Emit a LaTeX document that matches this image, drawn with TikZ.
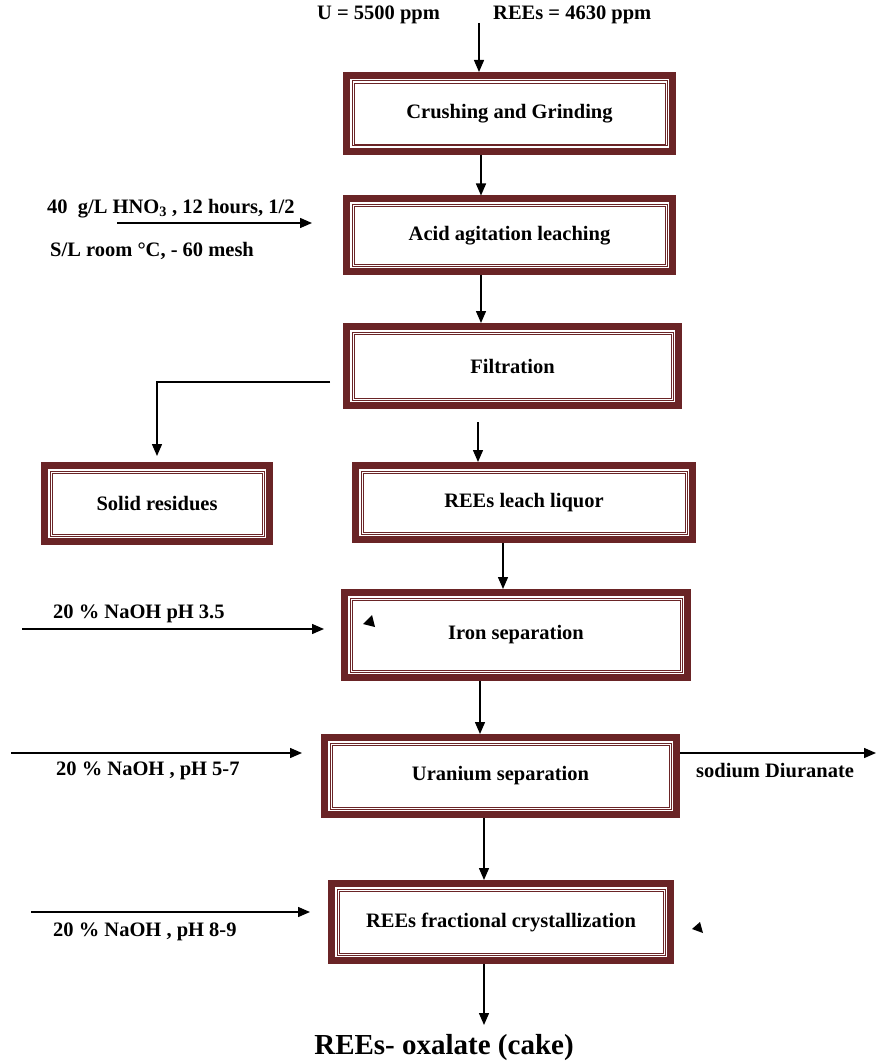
\documentclass[tikz,border=0pt]{standalone}
\usepackage{fontspec}
\setmainfont{Liberation Serif}
\usetikzlibrary{positioning, arrows.meta}
\definecolor{boxred}{RGB}{106,36,38}
\tikzset{
  procbox/.style={draw=boxred, line width=7pt, fill=white,
    font=\bfseries\fontsize{20.5}{23}\selectfont,
    path picture={
      \draw[boxred, line width=1pt]
        ([shift={(5.5pt,-5.5pt)}]path picture bounding box.north west) rectangle
        ([shift={(-5.5pt,5.5pt)}]path picture bounding box.south east);
      \draw[boxred, line width=0.8pt]
        ([shift={(7.5pt,-7.5pt)}]path picture bounding box.north west) rectangle
        ([shift={(-7.5pt,7.5pt)}]path picture bounding box.south east);
    }},
  lbl/.style={font=\bfseries\fontsize{20.5}{22}\selectfont, inner sep=0pt},
  flow/.style={line width=1.4pt, -{Triangle[length=12pt,width=10pt]}}
}
\begin{document}
\begin{tikzpicture}[x=1pt, y=-1pt]
    \useasboundingbox (0,0) rectangle (877,1064);

    % process boxes
    \node[procbox, minimum width=326pt, minimum height=76pt] (crush) at (509.5,113.5) {Crushing and Grinding};
    \node[procbox, minimum width=326pt, minimum height=73pt, below of=crush, node distance=122pt] (acid) {Acid agitation leaching};
    \node[procbox, minimum width=332pt, minimum height=79pt, below of=acid, node distance=130.5pt, xshift=3pt] (filt) {Filtration};
    \node[procbox, minimum width=337pt, minimum height=74pt, below of=filt, node distance=136.5pt, xshift=11.5pt] (leach) {REEs leach liquor};
    \node[procbox, minimum width=225pt, minimum height=76pt] (solid) at (157,503.5) {Solid residues};
    \node[procbox, minimum width=343pt, minimum height=85pt, below of=leach, node distance=132.5pt, xshift=-8pt] (iron) {Iron separation};
    \node[procbox, minimum width=352pt, minimum height=77pt, below of=iron, node distance=141pt, xshift=-15.5pt] (uran) {Uranium separation};
    \node[procbox, minimum width=339pt, minimum height=77pt, below of=uran, node distance=146pt, xshift=0.5pt] (frac) {REEs fractional crystallization};

    % feed and conditions
    \node[lbl, anchor=west] (ulbl) at (317,15) {U = 5500 ppm};
    \node[lbl, anchor=west] (reeslbl) at (493,15) {REEs = 4630 ppm};
    \node[lbl, anchor=west] (acidlbl) at (47,209) {40~ g/L HNO\textsubscript{3} , 12 hours, 1/2};
    \node[lbl, anchor=west] (acidlblb) at (50,251) {S/L room °C, - 60 mesh};
    \node[lbl, anchor=west] (ironlbl) at (53,614) {20 \% NaOH pH 3.5};
    \node[lbl, anchor=west] (uranlbl) at (56,771) {20 \% NaOH , pH 5-7};
    \node[lbl, anchor=west] (sdulbl) at (696,771) {sodium Diuranate};
    \node[lbl, anchor=west] (fraclbl) at (53,932) {20 \% NaOH , pH 8-9};
    \node[font=\bfseries\fontsize{29}{31}\selectfont, inner sep=0pt] (cake) at (444,1048) {REEs- oxalate (cake)};

    \coordinate (feed) at (479,23);
    \coordinate (acidin) at (117,223);
    \coordinate (ironin) at (22,629);
    \coordinate (uranin) at (11,753);
    \coordinate (uranout) at (876,753);
    \coordinate (fracin) at (31,912);
    \coordinate (out) at (484,1025);

    % main line
    \draw[flow] (feed) -- (feed |- crush.north);
    \draw[flow] ([xshift=-28.5pt]crush.south) -- ([xshift=-28.5pt]crush.south |- acid.north);
    \draw[flow] ([xshift=-28.5pt]acid.south) -- ([xshift=-28.5pt]acid.south |- filt.north);
    \draw[flow] ([xshift=-34.5pt, yshift=-13pt]filt.south) -- ([xshift=-34.5pt]filt.south |- leach.north);
    \draw[flow, shorten <=13pt, shorten >=6pt] ([yshift=-16pt]filt.west) -| (solid.north);
    \draw[flow] ([xshift=-21pt]leach.south) -- ([xshift=-21pt]leach.south |- iron.north);
    \draw[flow] ([xshift=-36pt]iron.south) -- ([xshift=-36pt]iron.south |- uran.north);
    \draw[flow] ([xshift=-16.5pt]uran.south) -- ([xshift=-16.5pt]uran.south |- frac.north);
    \draw[flow] (frac.south -| out) -- (out);

    % side streams
    \draw[flow, shorten >=31pt] (acidin) -- (acidin -| acid.west);
    \draw[flow, shorten >=17pt] (ironin) -- (ironin -| iron.west);
    \draw[flow, shorten >=19pt] (uranin) -- (uranin -| uran.west);
    \draw[flow] (uranin -| uran.east) -- (uranout);
    \draw[flow, shorten >=18pt] (fracin) -- (fracin -| frac.west);

    % stray marks
    \fill (363,624) -- (372,615) -- (375,627) -- cycle;
    \fill (692,929) -- (700,922) -- (703,933) -- cycle;
\end{tikzpicture}
\end{document}
